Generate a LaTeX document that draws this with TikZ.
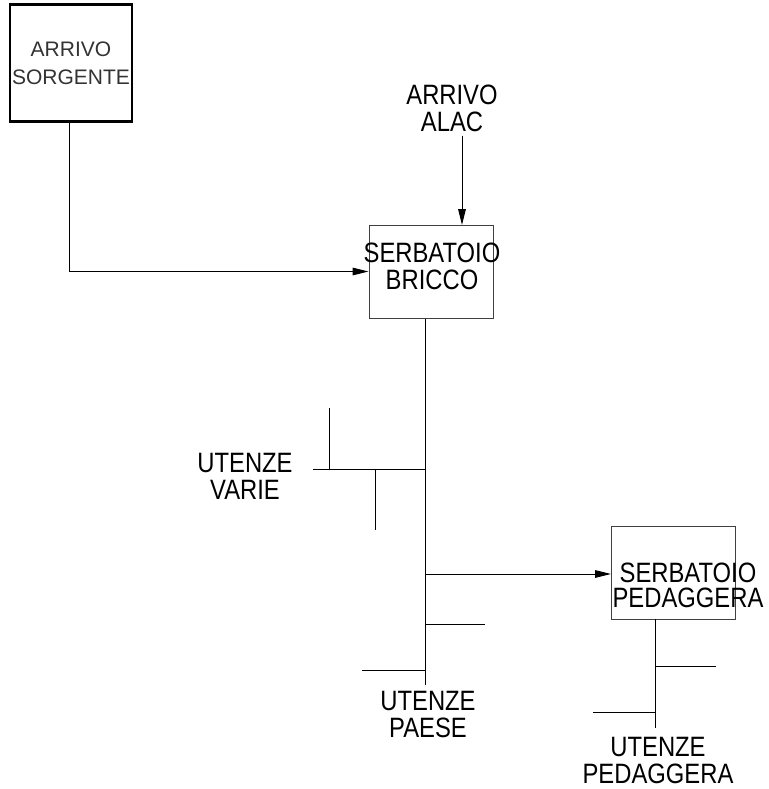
\documentclass[tikz,border=0pt]{standalone}
\usepackage{fontspec}
\setmainfont{Liberation Sans}
\newfontfamily\narrowsans[FakeStretch=0.85]{Liberation Sans}
\usepackage{tikz}
\usetikzlibrary{arrows.meta, positioning}
\tikzstyle{arrow} = [line width=0.5pt,-{Triangle[length=8pt,width=3.8pt]}]
\tikzstyle{pipe} = [line width=0.5pt]
\tikzstyle{source} = [rectangle, draw=black, line width=1.3pt, minimum width=61pt, minimum height=58.5pt, inner sep=0pt, align=center, font=\fontsize{10.5}{14}\selectfont, text=black!80]
\tikzstyle{tank} = [rectangle, draw=black!75, line width=0.5pt, minimum width=62pt, minimum height=46.5pt, inner sep=0pt]
\tikzstyle{lbl} = [align=center, inner sep=0pt, font=\narrowsans\fontsize{14}{13.5}\selectfont]

\begin{document}
\begin{tikzpicture}[x=0.5pt, y=-0.5pt]
\useasboundingbox (0,0) rectangle (769,789);

% Sources
\node (sorgente) [source] at (71,63) {ARRIVO\\SORGENTE};
\node (alac) [lbl] at (452,108) {ARRIVO\\ALAC};

% Tanks
\node (bricco) [tank] at (431,271.5) {};
\node (bricco-txt) [lbl] at (432,266.5) {SERBATOIO\\BRICCO};
\node (pedaggera) [tank] at (673.5,572.5) {};
\node (pedaggera-txt) [lbl, font=\narrowsans\fontsize{14}{12.5}\selectfont] at (688,585) {SERBATOIO\\PEDAGGERA};

% Users
\node (varie) [lbl] at (245,476.5) {UTENZE\\VARIE};
\node (paese) [lbl] at (428,714) {UTENZE\\PAESE};
\node (utped) [lbl] at (658,760) {UTENZE\\PEDAGGERA};

% Junctions on the main line
\coordinate (alac-in) at (462,225);
\coordinate (j1) at (425,469);
\coordinate (j2) at (425,574);
\coordinate (j3) at (425,624);
\coordinate (j4) at (425,670);
\coordinate (trunk-end) at (425,685);
\coordinate (varie-end) at (313,469);
\coordinate (tick1-top) at (329,408);
\coordinate (tick2-bot) at (375,530);
\coordinate (j3-end) at (485,624);
\coordinate (j4-end) at (362,670);

% Junctions below Pedaggera
\coordinate (k0) at (655,619);
\coordinate (k1) at (655,666);
\coordinate (k2) at (655,712);
\coordinate (ped-end) at (655,728);
\coordinate (k1-end) at (716,666);
\coordinate (k2-end) at (593,712);

% Arrows
\draw [arrow] (sorgente.south -| 69,0) |- (bricco.west);
\draw [arrow] (alac.south -| alac-in) ++(0,4) -- (alac-in);
\draw [arrow] (j2) -- (j2 -| pedaggera.west);

% Main line
\draw [pipe] (bricco.south -| trunk-end) -- (trunk-end);
\draw [pipe] (j1) -- (varie-end);
\draw [pipe] (tick1-top) -- (tick1-top |- j1);
\draw [pipe] (tick2-bot |- j1) -- (tick2-bot);
\draw [pipe] (j3) -- (j3-end);
\draw [pipe] (j4) -- (j4-end);

% Pedaggera line
\draw [pipe] (k0) -- (ped-end);
\draw [pipe] (k1) -- (k1-end);
\draw [pipe] (k2) -- (k2-end);

\end{tikzpicture}
\end{document}
